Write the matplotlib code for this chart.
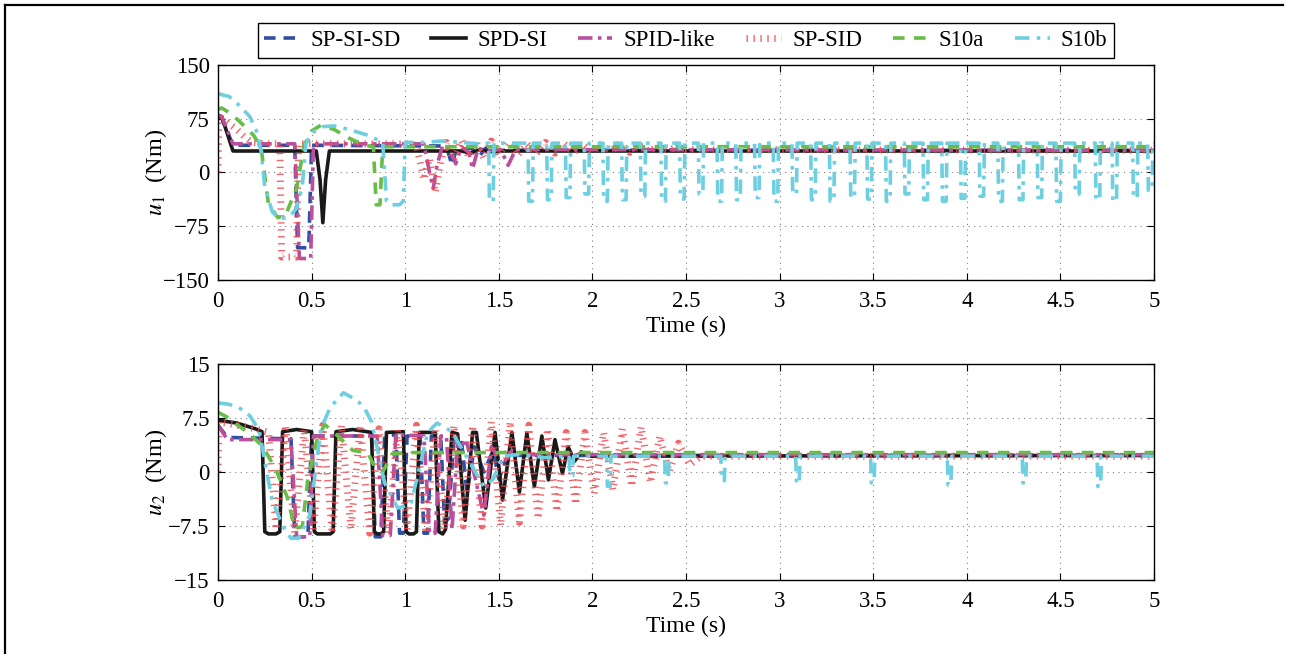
import numpy as np
import matplotlib
matplotlib.use('Agg')
import matplotlib.pyplot as plt
from matplotlib.lines import Line2D

# ---- data (time [s], torque [Nm]) ----
labels = ['SP-SI-SD', 'SPD-SI', 'SPID-like', 'SP-SID', 'S10a', 'S10b']

# u1
blue_u1 = [(0, 78), (0.02, 76), (0.08, 38), (0.41, 38), (0.425, -105), (0.485, -105), (0.5, 38),
           (1.2, 37), (1.23, 28), (1.25, 10), (1.27, 30), (1.35, 34), (1.4, 24), (1.43, 34),
           (1.46, 26), (1.5, 31), (5, 31)]
black_u1 = [(0, 80), (0.02, 78), (0.08, 30), (0.525, 30), (0.545, -10), (0.56, -70), (0.575, -10),
            (0.595, 30), (1.3, 30), (1.35, 27), (1.4, 32), (1.45, 29), (1.5, 30), (5, 30)]
magenta_u1 = [(0, 80), (0.02, 78), (0.08, 40), (0.41, 40), (0.435, -120), (0.495, -120), (0.51, 40),
              (1.1, 40), (1.13, 0), (1.15, -22), (1.17, 10), (1.2, 38), (1.24, 32), (1.27, 12),
              (1.3, 36), (1.34, 28), (1.36, 5), (1.39, 34), (1.44, 30), (1.51, 32), (1.55, 10),
              (1.59, 32), (5, 31)]
red_u1 = [(0, 0), (0.005, 75), (0.02, 75), (0.05, 70), (0.1, 60), (0.14, 50), (0.18, 42), (0.25, 40),
          (0.33, 40), (0.34, -118), (0.42, -118), (0.43, 40), (1.0, 40), (1.06, 38), (1.1, -10),
          (1.13, 20), (1.16, -28), (1.19, 15), (1.22, 42), (1.26, 18), (1.3, 45), (1.34, 22),
          (1.38, 42), (1.42, 20), (1.46, 44), (1.5, 25), (1.55, 42), (1.6, 24), (1.65, 40),
          (1.7, 26), (1.75, 42), (1.8, 27), (1.85, 40), (1.9, 28), (1.95, 40), (2.0, 29),
          (2.05, 38), (2.1, 30), (2.15, 40), (2.2, 28), (2.25, 38), (2.3, 30), (2.35, 36),
          (2.4, 31), (2.45, 35), (2.5, 32), (5, 31)]
green_u1 = [(0, 88), (0.02, 90), (0.07, 82), (0.12, 70), (0.19, 52), (0.23, 35), (0.27, -45),
            (0.32, -63), (0.36, -60), (0.42, -22), (0.46, 38), (0.5, 58), (0.55, 66), (0.62, 60),
            (0.7, 48), (0.78, 38), (0.83, 36), (0.845, -45), (0.865, -45), (0.88, 36), (5, 36)]
cyan_u1 = [(0, 110), (0.06, 106), (0.12, 92), (0.17, 78), (0.21, 55), (0.23, 30), (0.25, -20),
           (0.29, -55), (0.33, -65), (0.38, -62), (0.42, -50), (0.45, -20), (0.47, 40), (0.5, 55),
           (0.56, 64), (0.62, 65), (0.7, 60), (0.8, 52), (0.88, 42), (0.9, -40), (0.92, -45),
           (0.97, -45), (0.99, -40), (1.0, 42), (1.1, 42), (1.2, 44), (1.3, 42), (1.4, 40)]
cyan_u1_level = 41
cyan_u1_spike_t = [1.45, 1.66, 1.76, 1.86, 1.96, 2.06, 2.16, 2.26, 2.37, 2.47, 2.57, 2.67, 2.77,
                   2.87, 2.97, 3.07, 3.17, 3.27, 3.38, 3.47, 3.57, 3.67, 3.77, 3.87, 3.97, 4.07,
                   4.17, 4.28, 4.38, 4.48, 4.58, 4.69, 4.78, 4.89, 4.97]
cyan_u1_spike_u = [-40, -40, -38, -35, -30, -40, -38, -33, -40, -37, -30, -40, -38, -35, -40,
                   -30, -38, -40, -35, -37, -40, -30, -38, -40, -36, -33, -40, -38, -35, -40,
                   -30, -38, -40, -35, -25]

# u2
blue_u2 = [(0, 6.5), (0.05, 4.8), (0.39, 4.6), (0.41, -9.0), (0.48, -9.0), (0.5, 5.0), (0.82, 5.0),
           (0.84, -9.0), (0.87, -9.0), (0.89, 5.0), (0.95, 5.2), (0.97, -8.5), (0.99, -8.5),
           (1.01, 5.0), (1.08, 5.0), (1.1, -8.5), (1.12, -8.5), (1.14, 5.0), (1.19, 5.0),
           (1.21, -7.0), (1.23, -6.5), (1.26, 4.5), (1.3, 4.5), (1.33, -3.0), (1.37, 3.5),
           (1.42, 0.0), (1.47, 3.0), (1.5, -1.0), (1.55, 2.5), (1.6, 2.3), (5, 2.3)]
black_u2 = [(0, 7.2), (0.1, 6.8), (0.2, 6.0), (0.235, 5.6), (0.25, -8.3), (0.27, -8.6), (0.31, -8.6),
            (0.33, -8.3), (0.345, 5.6), (0.42, 5.9), (0.5, 5.6), (0.515, -8.3), (0.53, -8.6),
            (0.6, -8.6), (0.615, -8.3), (0.63, 5.6), (0.72, 5.9), (0.82, 5.5), (0.835, -8.3),
            (0.85, -8.6), (0.87, -8.6), (0.885, -8.3), (0.9, 5.5), (0.99, 5.6), (1.005, -8.3),
            (1.02, -8.6), (1.045, -8.6), (1.06, -8.3), (1.075, 5.5), (1.16, 5.5), (1.18, -8.3),
            (1.2, -8.6), (1.215, -8.0), (1.25, 5.5), (1.28, 5.3), (1.32, -6.7), (1.36, 5.5),
            (1.38, 5.5), (1.43, -5.0), (1.48, 5.5), (1.52, -3.9), (1.57, 5.5), (1.61, -2.8),
            (1.65, 5.4), (1.69, -2.0), (1.73, 5.0), (1.765, -1.1), (1.8, 4.5), (1.84, -0.2),
            (1.87, 3.5), (1.905, 1.5), (1.94, 2.8), (1.98, 2.2), (5, 2.3)]
magenta_u2 = [(0, 6.5), (0.05, 4.5), (0.39, 4.5), (0.42, -9.0), (0.49, -9.0), (0.51, 5.0), (0.85, 5.0),
              (0.88, -8.8), (0.92, -8.8), (0.95, 5.2), (1.1, 5.0), (1.13, -8.5), (1.16, -8.5),
              (1.19, 5.0), (1.22, 5.0), (1.25, -8.0), (1.28, 4.0), (1.33, 4.0), (1.42, -6.0),
              (1.46, 3.5), (1.52, 1.0), (1.57, 3.0), (1.63, 2.4), (5, 2.4)]
red_u2 = [(0, 0), (0.005, 7), (0.1, 6.5), (0.2, 6), (0.27, 5.5), (0.31, -8), (0.36, 6.5), (0.41, -8.5),
          (0.46, 6), (0.51, -8), (0.56, 6.5), (0.61, -8.5), (0.66, 6.5), (0.71, -8), (0.76, 6.5),
          (0.81, -8.5), (0.86, 6), (0.91, -8.5), (0.96, 6), (1.01, -8), (1.06, 6.5), (1.11, -8.5),
          (1.16, 6), (1.21, -8), (1.26, 6.5), (1.31, -7.5), (1.36, 6.5), (1.41, -7.5), (1.46, 7),
          (1.51, -7.5), (1.56, 7), (1.61, -7), (1.66, 6.5), (1.71, -6.5), (1.76, 6), (1.81, -5.5),
          (1.86, 5.5), (1.91, -4.5), (1.96, 5.5), (2.01, -3), (2.06, 5.5), (2.11, -2.5), (2.16, 6),
          (2.21, -2), (2.26, 6.3), (2.31, -1.5), (2.36, 5), (2.41, 0), (2.46, 4), (2.52, 1),
          (2.58, 2.2), (5, 2.2)]
green_u2 = [(0, 8.3), (0.05, 7.6), (0.1, 6.6), (0.17, 5.3), (0.24, 3.5), (0.31, 0.3), (0.37, -3.5),
            (0.41, -7.8), (0.45, -7.6), (0.48, -1.0), (0.53, 4.6), (0.57, 6.6), (0.64, 5.0),
            (0.72, 3.0), (0.8, 2.7), (0.84, 0.5), (0.88, 0.0), (0.93, 2.5), (1.0, 2.7), (5, 2.7)]
cyan_u2 = [(0, 9.6), (0.06, 9.4), (0.12, 8.8), (0.17, 7.8), (0.22, 5.8), (0.26, 0.0), (0.29, -4.0),
           (0.35, -7.7), (0.39, -9.2), (0.43, -9.2), (0.49, -6.0), (0.52, 0.0), (0.55, 6.0),
           (0.6, 9.0), (0.67, 11.0), (0.74, 10.0), (0.78, 9.0), (0.82, 7.0), (0.89, -1.5),
           (0.96, -5.0), (1.03, -4.5), (1.08, 1.0), (1.12, 5.5), (1.17, 6.8), (1.25, 5.6),
           (1.33, 2.0), (1.42, -2.0), (1.47, -1.0), (1.52, 2.2), (1.6, 2.4), (1.75, 2.0)]
cyan_u2_level = 2.2
cyan_u2_spike_t = [1.88, 2.08, 2.39, 2.69, 3.09, 3.49, 3.9, 4.3, 4.7]
cyan_u2_spike_u = [-0.5, -2.0, -1.5, -1.2, -1.6, -1.5, -1.8, -1.5, -2.0]


def unzip(pairs):
    return [p[0] for p in pairs], [p[1] for p in pairs]


def with_spikes(pairs, level, times, depths, w):
    t, u = unzip(pairs)
    for ts, d in zip(times, depths):
        t += [ts - 0.004, ts, ts + w, ts + w + 0.004]
        u += [level, d, d, level]
    t.append(5)
    u.append(level)
    return t, u


plt.rcParams['font.family'] = ['Liberation Serif', 'DejaVu Serif']
plt.rcParams['mathtext.fontset'] = 'stix'

styles = [
    dict(color='#2f4fa2', lw=2.6, ls=(0, (3.2, 2.2))),
    dict(color='#1a1a1a', lw=2.6, ls='-'),
    dict(color='#b9509e', lw=2.6, ls=(0, (4, 1.5, 1, 1.5))),
    dict(color='#f04a50', lw=5.0, ls=(0, (0.2, 0.8)), alpha=0.85),
    dict(color='#67bd45', lw=2.6, ls=(0, (3.2, 2.6))),
    dict(color='#6dcfe0', lw=2.6, ls=(0, (4, 2, 1, 2))),
]

W, H = 1291, 654
fig = plt.figure(figsize=(W / 100, H / 100), dpi=100)
ax1 = fig.add_axes([218 / W, 1 - 280 / H, 936 / W, 215 / H])
ax2 = fig.add_axes([218 / W, 1 - 580 / H, 936 / W, 216 / H])

top = [unzip(blue_u1), unzip(black_u1), unzip(magenta_u1), unzip(red_u1), unzip(green_u1),
       with_spikes(cyan_u1, cyan_u1_level, cyan_u1_spike_t, cyan_u1_spike_u, 0.02)]
bottom = [unzip(blue_u2), unzip(black_u2), unzip(magenta_u2), unzip(red_u2), unzip(green_u2),
          with_spikes(cyan_u2, cyan_u2_level, cyan_u2_spike_t, cyan_u2_spike_u, 0.015)]

for ax, series, lim, ticks, tlabels, name in [
        (ax1, top, 150, [-150, -75, 0, 75, 150], ['\u2212150', '\u221275', '0', '75', '150'], r'$u_1$  (Nm)'),
        (ax2, bottom, 15, [-15, -7.5, 0, 7.5, 15], ['\u221215', '\u22127.5', '0', '7.5', '15'], r'$u_2$  (Nm)')]:
    for (t, u), st, lab in zip(series, styles, labels):
        ax.plot(t, u, label=lab, dash_capstyle='butt', **st)
    ax.set_xlim(0, 5)
    ax.set_ylim(-lim, lim)
    ax.set_xticks(np.arange(0, 5.01, 0.5))
    ax.set_xticklabels(['0', '0.5', '1', '1.5', '2', '2.5', '3', '3.5', '4', '4.5', '5'])
    ax.set_yticks(ticks)
    ax.set_yticklabels(tlabels)
    ax.grid(True, ls=(0, (1, 4)), color='#808080', lw=0.8)
    ax.tick_params(direction='in', top=True, right=True, length=5, width=0.8, labelsize=16.5)
    ax.tick_params(axis='x', pad=8)
    ax.tick_params(axis='y', pad=6)
    for s in ax.spines.values():
        s.set_linewidth(1.0)
    ax.set_xlabel('Time (s)', fontsize=17, labelpad=3)
    ax.set_ylabel(name, fontsize=17.5)
    ax.yaxis.set_label_coords(-0.052, 0.5)

leg = ax1.legend(loc='lower center', bbox_to_anchor=(0.5, 1.033), borderaxespad=0, ncol=6,
                 fancybox=False, edgecolor='black', framealpha=1, fontsize=16.5,
                 handlelength=1.5, columnspacing=1.35, handletextpad=0.5, borderpad=0.3)
leg.get_frame().set_linewidth(1.0)

# outer frame (left and top edges)
fig.add_artist(Line2D([5 / W, 5 / W], [0, 1 - 5 / H], transform=fig.transFigure, color='black', lw=1.6))
fig.add_artist(Line2D([5 / W, 1283 / W], [1 - 5 / H, 1 - 5 / H], transform=fig.transFigure,
                      color='black', lw=1.6))

fig.savefig('out.png', dpi=100)
